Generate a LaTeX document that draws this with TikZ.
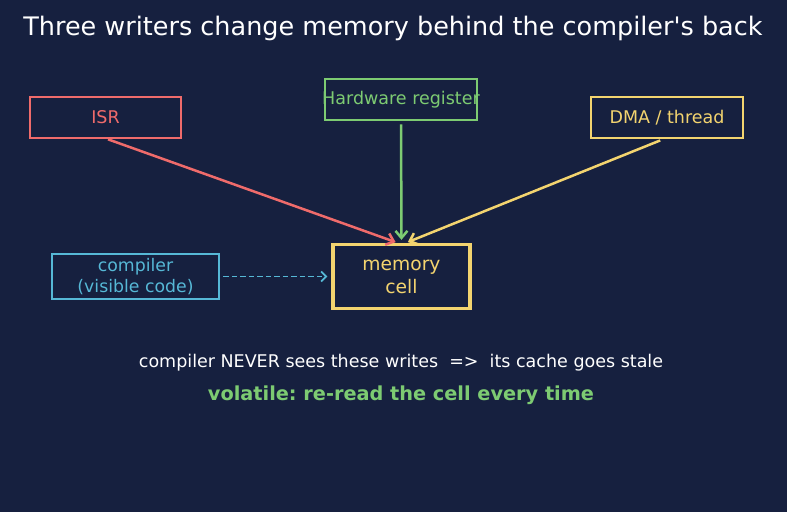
\documentclass[tikz,border=0pt]{standalone}
\usepackage{fontspec}
\setmainfont{DejaVu Sans}[Ligatures=TeXOff]
\usetikzlibrary{positioning,arrows.meta}
\definecolor{BgC}{HTML}{16203F}
\definecolor{IsrC}{HTML}{EF6B6B}
\definecolor{HwC}{HTML}{7DCB72}
\definecolor{DmaC}{HTML}{F3D46F}
\definecolor{CompC}{HTML}{56B8D6}
\frenchspacing

\begin{document}
\begin{tikzpicture}[x=1pt,y=-1pt,font=\fontsize{17.5}{20}\selectfont,
  box/.style={draw,line width=2.6pt,inner sep=0pt,align=center},
  wire/.style={line width=2.5pt,-{Straight Barb[length=7pt,width=12pt,line width=2.5pt]}}]

% ---------- canvas ----------
\fill[BgC] (0,0) rectangle (787,512);
\node[font=\fontsize{25.5}{30}\selectfont,color=white] (title) at (393,28)
  {Three writers change memory behind the compiler's back};

% ---------- writers ----------
\node[box,IsrC,minimum width=151pt,minimum height=41pt] (isr) at (105.5,117.5) {ISR};
\node[box,HwC,minimum width=152pt,minimum height=41pt] (hw) at (401,99.5)
  {\makebox[0pt]{Hardware register}};
\node[box,DmaC,minimum width=152pt,minimum height=41pt] (dma) at (667,117.5) {DMA / thread};

% ---------- target ----------
\node[box,DmaC,line width=3.4pt,minimum width=137pt,minimum height=64pt,
  font=\fontsize{18.7}{23}\selectfont] (cell) at (401.5,276.5) {memory\\cell};
\node[box,CompC,minimum width=167pt,minimum height=45pt,
  font=\fontsize{17.3}{20.5}\selectfont] (comp) at (135.5,276.5)
  {compiler\\(visible code)};

% ---------- writes ----------
\draw[wire,IsrC,shorten >=2pt] ([xshift=2.5pt]isr.south) -- ([xshift=-4pt]cell.north);
\draw[wire,HwC,shorten <=3pt,shorten >=3pt] (hw.south) -- (cell.north);
\draw[wire,DmaC,shorten <=3pt,shorten >=2pt] ([xshift=-4pt]dma.south) -- ([xshift=4.5pt]cell.north);
\draw[CompC,line width=1.7pt,dash pattern=on 5.5pt off 3pt,
  -{Straight Barb[length=5pt,width=10pt,line width=1.7pt]},shorten <=3pt,shorten >=4pt]
  (comp.east) -- (cell.west);

% ---------- notes ----------
\node[color=white] (note) at (401,363)
  {compiler NEVER sees these writes\ \ =>\ \ its cache goes stale};
\node[color=HwC,font=\bfseries\fontsize{19.3}{23}\selectfont] (rule) at (401,395)
  {volatile: re-read the cell every time};
\end{tikzpicture}
\end{document}
